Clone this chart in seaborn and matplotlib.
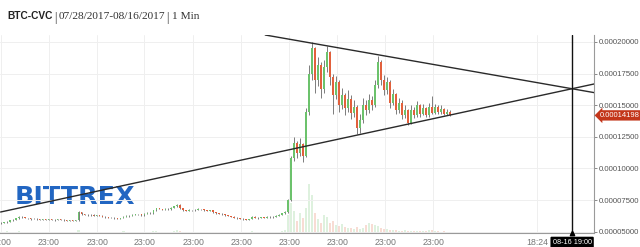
import numpy as np
import pandas as pd
import matplotlib
matplotlib.use("Agg")
import matplotlib.pyplot as plt
import seaborn as sns
from matplotlib.transforms import blended_transform_factory
from matplotlib.ticker import FixedLocator, FuncFormatter

# ---------------- data (prices in satoshi, 1e-8 BTC) ----------------
first_open = 5680
closes = [
    5710, 5750, 5800, 5900, 5950, 6050, 6180, 6150, 6100, 6050, 6000, 6030,
    5980, 5950, 5990, 5940, 6000, 5960, 5920, 5980, 5950, 5900, 5880, 5920,
    5870, 5900, 6560, 6400, 6350, 6300, 6340, 6280, 6320, 6260, 6200, 6150,
    6100, 6120, 6060, 6030, 6080, 6200, 6260, 6240, 6350, 6400, 6380, 6300,
    6420, 6500, 6450, 6700, 6850, 6800, 6750, 6820, 6780, 6900, 7000, 7150,
    6850, 6700, 6650, 6720, 6680, 6750, 6800, 6760, 6700, 6650, 6680, 6550,
    6480, 6420, 6380, 6300, 6250, 6180, 6100, 6050, 6020, 5980, 5950, 6000,
    6200, 6120, 6080, 6150, 6100, 6180, 6150, 6200, 6250, 6350, 6450, 6550,
    7500, 10800, 12000, 11200, 11900, 11000, 14500, 17500, 19500, 17000, 18200, 16300,
    18000, 19200, 17200, 15800, 16800, 15000, 15800, 14800, 15500, 14400, 14900, 13200,
    13800, 15000, 14600, 15400, 15000, 16600, 18400, 17000, 16200, 16800, 15200, 15900,
    14600, 15200, 14200, 14600, 13600, 14600, 14200, 15000, 14300, 14800, 14200, 14900,
    14400, 14900, 14500, 14700, 14300, 14500, 14198,
]
highs = [
    5760, 5790, 5840, 5940, 5990, 6100, 6220, 6210, 6170, 6120, 6080, 6070,
    6060, 6010, 6030, 6020, 6040, 6030, 5990, 6020, 6010, 5980, 5940, 5960,
    5950, 5940, 6620, 6600, 6430, 6380, 6380, 6370, 6360, 6350, 6290, 6230,
    6180, 6160, 6150, 6090, 6120, 6240, 6300, 6290, 6390, 6440, 6430, 6410,
    6460, 6540, 6540, 6740, 6900, 6880, 6830, 6860, 6850, 6940, 7050, 7220,
    7180, 6880, 6730, 6760, 6750, 6790, 6840, 6830, 6790, 6730, 6720, 6710,
    6580, 6510, 6450, 6410, 6330, 6280, 6210, 6130, 6080, 6050, 6010, 6040,
    6260, 6230, 6150, 6190, 6180, 6220, 6210, 6240, 6290, 6390, 6500, 6620,
    7600, 11000, 12500, 12200, 12400, 12000, 14800, 18200, 20000, 19600, 18800, 18400,
    18600, 19700, 19300, 17500, 17300, 17000, 16400, 16000, 16200, 15800, 15400, 15000,
    14300, 15600, 15400, 15900, 15700, 17000, 18900, 18600, 17400, 17200, 17000, 16300,
    16000, 15600, 15400, 15000, 14700, 15000, 14900, 15300, 15100, 15100, 14900, 15200,
    15700, 15100, 15000, 15000, 14800, 14700, 14600,
]
lows = [
    5650, 5690, 5730, 5780, 5880, 5930, 6030, 6110, 6060, 6010, 5960, 5970,
    5940, 5910, 5920, 5900, 5910, 5920, 5880, 5890, 5910, 5860, 5840, 5850,
    5830, 5840, 5880, 6360, 6310, 6260, 6270, 6240, 6250, 6220, 6160, 6110,
    6060, 6070, 6020, 5990, 6000, 6050, 6170, 6200, 6210, 6320, 6340, 6260,
    6270, 6390, 6410, 6420, 6670, 6760, 6710, 6720, 6740, 6750, 6870, 6970,
    6810, 6660, 6610, 6620, 6640, 6650, 6720, 6720, 6660, 6610, 6620, 6510,
    6440, 6380, 6340, 6260, 6210, 6140, 6060, 6010, 5980, 5940, 5910, 5920,
    5970, 6080, 6040, 6050, 6060, 6070, 6110, 6120, 6170, 6220, 6320, 6420,
    6500, 7400, 10600, 10800, 11000, 10500, 10900, 14200, 17000, 16000, 16500, 15600,
    16000, 17600, 16600, 14300, 15500, 14500, 14700, 14200, 14500, 13900, 14100, 12700,
    12800, 13600, 14200, 14400, 14600, 14900, 16400, 16600, 15800, 15900, 14800, 15000,
    14300, 14400, 13900, 14000, 13400, 13500, 14000, 14100, 14100, 14200, 14100, 14100,
    14300, 14300, 14300, 14300, 14200, 14200, 14150,
]
volumes = [
    1, 1, 2, 1, 1, 1, 2, 1, 1, 1, 1, 1,
    1, 1, 1, 1, 1, 1, 1, 1, 1, 1, 1, 1,
    1, 1, 3, 1, 1, 1, 1, 1, 1, 1, 1, 1,
    1, 1, 1, 1, 1, 2, 1, 1, 1, 1, 1, 1,
    1, 1, 1, 2, 2, 1, 1, 1, 1, 1, 2, 3,
    2, 1, 1, 1, 1, 1, 1, 1, 1, 1, 1, 1,
    1, 1, 1, 1, 1, 1, 1, 1, 1, 1, 1, 1,
    2, 1, 1, 1, 1, 1, 1, 1, 1, 1, 2, 3,
    18, 30, 22, 12, 20, 15, 25, 49, 38, 20, 14, 10,
    18, 16, 10, 12, 8, 7, 9, 6, 5, 5, 4, 6,
    4, 5, 8, 10, 9, 8, 7, 5, 4, 4, 3, 3,
    3, 2, 2, 3, 2, 2, 2, 2, 2, 2, 2, 3,
    3, 2, 2, 1, 2, 1, 1,
]
last_price = 14198
price_ticks = [5000, 7500, 10000, 12500, 15000, 17500, 20000]
time_tick_pos = [0, 16, 32.3, 48, 64.3, 80.3, 96.3, 112.3, 128.3, 144.3, 179]
time_tick_labels = ["23:00"] * 10 + ["18:24"]
cursor_x = 190.7
cursor_label = "08-16 19:00"
upper_x = [88.3, 198]
upper_y = [20553, 16000]
lower_x = [0, 198]
lower_y = [6560, 16680]
title_symbol = "BTC-CVC"
title_range = "07/28/2017-08/16/2017"
title_interval = "1 Min"
logo_text = "BITTREX"

assert len(closes) == len(highs) == len(lows) == len(volumes)

# ---------------- frame ----------------
n = len(closes)
df = pd.DataFrame({
    "t": np.arange(n),
    "open": [first_open] + closes[:-1],
    "close": closes,
    "high": highs,
    "low": lows,
    "volume": volumes,
})
df["up"] = df["close"] >= df["open"]

sns.set_theme(style="white")
plt.rcParams["font.family"] = ["Liberation Sans", "DejaVu Sans"]

W, H = 640, 247
fig = plt.figure(figsize=(W / 100, H / 100), dpi=100)
fig.patch.set_facecolor("white")

ax_right_px, ax_top_px, ax_bot_px = 594, 35, 232.5
rect = [0, (H - ax_bot_px) / H, ax_right_px / W, (ax_bot_px - ax_top_px) / H]

# volume axes (underneath)
axv = fig.add_axes(rect, zorder=0)
axv.patch.set_visible(False)
for s in axv.spines.values():
    s.set_visible(False)
axv.set_xticks([])
axv.set_yticks([])

# main axes
ax = fig.add_axes(rect, zorder=2)
ax.patch.set_visible(False)

green = "#6cc26c"
red = "#e2603c"

vol_colors = [green if u else red for u in df["up"]]
axv.bar(df["t"], df["volume"], width=0.7, color=vol_colors, alpha=0.22, linewidth=0)
axv.set_ylim(0, ax_bot_px - ax_top_px)
axv.set_xlim(-0.2, 198)

# logo (real text, under the trend lines)
fig.text(14.5 / W, (H - 203.5) / H, logo_text, fontsize=18.3, fontweight="bold",
         family="DejaVu Sans", color="#2266c2", va="baseline", ha="left", zorder=1)

# candles
ax.vlines(df["t"], df["low"], df["high"], color="#5a5a5a", linewidth=0.55, zorder=3)
body_lo = np.minimum(df["open"], df["close"])
body_h = np.maximum(np.abs(df["close"] - df["open"]), 12)
ax.bar(df["t"], body_h, bottom=body_lo, width=0.62,
       color=[green if u else red for u in df["up"]], linewidth=0, zorder=4)

# trend lines
tl = pd.DataFrame({"x": upper_x + lower_x, "y": upper_y + lower_y,
                   "line": ["upper"] * 2 + ["lower"] * 2})
sns.lineplot(data=tl, x="x", y="y", units="line", estimator=None, color="#2a2a2a",
             linewidth=1.0, ax=ax, zorder=6, legend=False)

# cursor line
ax.axvline(cursor_x, color="#111111", linewidth=1.0, zorder=7)

ax.set_xlim(-0.2, 198)
ax.set_ylim(4940, 20553)

# axes styling
ax.yaxis.tick_right()
ax.yaxis.set_major_locator(FixedLocator(price_ticks))
ax.yaxis.set_major_formatter(FuncFormatter(lambda v, p: f"{v * 1e-8:.8f}"))
ax.xaxis.set_major_locator(FixedLocator(time_tick_pos))
ax.set_xticklabels(time_tick_labels)
ax.tick_params(axis="y", which="major", right=True, left=False, length=2.5, width=0.6,
               color="#777777", labelsize=5.6, labelcolor="#555555", pad=1)
ax.tick_params(axis="x", which="major", bottom=False, length=0, labelsize=6.3,
               labelcolor="#777777", pad=4)
ax.grid(True, color="#efefef", linewidth=0.7, zorder=0)
ax.set_axisbelow(True)
for side in ["top", "left"]:
    ax.spines[side].set_visible(False)
for side in ["right", "bottom"]:
    ax.spines[side].set_visible(True)
    ax.spines[side].set_color("#9a9a9a")
    ax.spines[side].set_linewidth(0.8)
ax.set_xlabel("")
ax.set_ylabel("")

# last price tag
tr_price = blended_transform_factory(ax.transAxes, ax.transData)
ax.text(1.0105, last_price, f"{last_price * 1e-8:.8f}", transform=tr_price,
        ha="left", va="center", fontsize=5.5, color="white", zorder=10, clip_on=False,
        bbox=dict(boxstyle="larrow,pad=0.22", fc="#c3361a", ec="none"))

# cursor time tag
tr_time = blended_transform_factory(ax.transData, ax.transAxes)
ax.text(cursor_x, -0.05, cursor_label, transform=tr_time, ha="center", va="center",
        fontsize=5.2, color="white", zorder=10, clip_on=False,
        bbox=dict(boxstyle="round,pad=0.3,rounding_size=0.15", fc="black", ec="none"))
ax.plot([cursor_x], [4940], marker="^", markersize=3.2, color="black",
        clip_on=False, zorder=11)

# title
ty = (H - 19) / H
fig.text(7 / W, ty, title_symbol, fontsize=7.3, fontweight="bold",
         family="Liberation Sans", color="#222222", va="baseline")
fig.text(54.5 / W, ty - 1.5 / H, "|", fontsize=8.6, family="Liberation Serif",
         color="#333333", va="baseline")
fig.text(59 / W, ty, title_range, fontsize=8.2, family="Liberation Serif",
         color="#333333", va="baseline")
fig.text(166.5 / W, ty - 1.5 / H, "|", fontsize=8.6, family="Liberation Serif",
         color="#333333", va="baseline")
fig.text(171.5 / W, ty, title_interval, fontsize=8.2, family="Liberation Serif",
         color="#333333", va="baseline")

fig.savefig("out.png", dpi=100, facecolor="white")
